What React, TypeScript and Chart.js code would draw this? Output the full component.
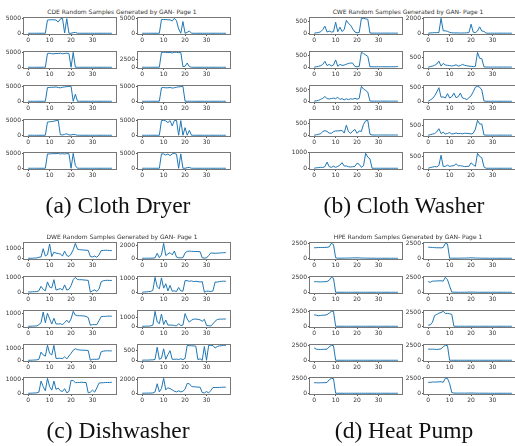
import React, { useEffect, useRef } from "react";
import { Chart, registerables } from "chart.js";

Chart.register(...registerables);

// ---------- data ----------
const X_TICKS = [0, 10, 20, 30];

// CDE (Cloth Dryer)
const CDE_1 = [0,0,0,0,0,0,0,0,0,4600, 4700,4700,4700,4600,3900,5000,5200,100,5100,0, 0,200,300,0,0,0,0,0,0,0, 0,0,0,0,0,0,0,0,0,0];
const CDE_2 = [0,0,0,0,0,0,0,0,0,4700, 4700,4700,4600,4600,4200,5100,4300,1500,0,4000, 0,300,800,0,0,0,0,0,0,0, 0,0,0,0,0,0,0,0,0,0];
const CDE_3 = [0,0,0,0,0,0,0,0,0,4800, 4900,4700,4700,4800,4800,4900,4700,4800,4900,4800, 0,5200,0,0,0,0,0,0,0,0, 0,0,0,0,0,0,0,0,0,0];
const CDE_4 = [0,0,0,0,0,0,0,0,0,4600, 4600,4600,4500,4600,4400,4600,4600,4500,4600,200, 300,1300,200,0,0,0,0,0,0,0, 0,0,0,0,0,0,0,0,0,0];
const CDE_5 = [0,0,0,0,0,0,0,0,0,4700, 4700,4800,4800,4900,4700,4600,4800,4900,5000,5100, 5100,0,2400,0,0,0,0,0,0,0, 0,0,0,0,0,0,0,0,0,0];
const CDE_6 = [0,0,0,0,0,0,0,0,0,4700, 4800,4700,4700,4800,4600,4700,4900,5000,5100,5200, 0,0,0,0,0,0,0,0,0,0, 0,0,0,0,0,0,0,0,0,0];
const CDE_7 = [0,0,0,0,0,0,0,0,0,4500, 4600,4700,4800,5000,5100,200,100,300,500,100, 100,300,200,0,0,0,0,0,0,0, 0,0,0,0,0,0,0,0,0,0];
const CDE_8 = [0,0,0,0,0,0,0,0,0,5000, 5100,4900,4300,5000,3200,5000,5100,0,5000,0, 2600,0,1700,0,0,0,0,0,0,0, 0,0,0,0,0,0,0,0,0,0];
const CDE_9 = [0,0,0,0,0,0,0,0,0,4800, 4800,4900,4900,4900,5000,4800,4900,4800,4900,4900, 0,5000,900,0,0,0,0,0,0,0, 0,0,0,0,0,0,0,0,0,0];
const CDE_10 = [0,0,0,0,0,0,0,0,0,5000, 5000,4600,5000,4400,5000,5200,4900,0,5000,0, 0,200,300,0,0,0,0,0,0,0, 0,0,0,0,0,0,0,0,0,0];
const CDE_TICKS = [[0,5000],[0,5000],[0,5000],[0,2500],[0,5000],[0,5000],[0,5000],[0,5000],[0,5000],[0,5000]];

// CWE (Cloth Washer)
const CWE_1 = [0,20,30,60,150,290,50,90,50,60, 450,60,250,70,150,530,400,330,170,50, 20,30,600,610,590,570,10,5,5,5, 5,5,5,5,5,5,5,5,5,5];
const CWE_2 = [0,50,60,80,80,100,1980,330,320,250, 120,60,40,50,40,30,30,40,60,80, 1200,150,80,300,850,300,250,20,10,10, 10,10,10,10,10,10,10,10,10,10];
const CWE_3 = [0,20,40,60,120,250,70,120,60,90, 310,40,120,80,90,130,160,180,170,30, 20,30,630,580,520,460,20,20,20,20, 20,20,20,20,20,20,20,20,25,30];
const CWE_4 = [0,40,60,100,170,320,60,200,120,100, 90,60,90,130,60,90,150,100,80,60, 50,30,50,780,470,450,20,10,10,10, 10,10,10,10,10,10,10,10,10,10];
const CWE_5 = [0,20,40,80,130,210,120,100,120,140, 110,180,80,120,60,110,70,110,90,130, 90,130,660,540,480,400,10,5,5,5, 5,5,5,5,5,5,5,5,5,5];
const CWE_6 = [0,50,100,200,340,500,150,160,120,280, 120,170,300,130,170,300,120,100,60,130, 200,350,520,550,520,420,10,0,0,0, 0,0,0,0,0,0,0,0,0,0];
const CWE_7 = [0,20,40,60,160,190,160,90,80,150, 180,180,190,200,90,420,150,80,180,240, 80,180,160,450,600,620,40,10,10,10, 10,10,10,10,10,10,10,10,10,10];
const CWE_8 = [0,30,60,80,170,320,80,150,60,90, 130,60,80,110,80,90,70,100,90,90, 60,100,300,730,550,550,20,5,5,5, 5,5,5,5,5,5,5,5,5,5];
const CWE_9 = [0,30,40,60,50,100,400,100,60,130, 60,120,200,360,140,150,100,80,100,120, 330,250,60,160,960,720,600,0,0,0, 0,0,0,0,0,0,0,0,0,0];
const CWE_10 = [0,30,50,70,60,120,550,80,80,130, 80,100,110,190,100,110,90,70,80,80, 230,150,80,630,500,450,60,0,0,0, 0,0,0,0,0,0,0,0,0,0];
const CWE_TICKS = [[0,500],[0,2000],[0,500],[0,500],[0,500],[0,500],[0,500],[0,500],[0,1000],[0,500]];

// DWE (Dishwasher)
const DWE_1 = [20,20,30,40,50,120,150,1000,250,400, 1480,200,650,550,500,450,250,750,300,200, 450,900,1550,950,900,880,860,850,830,200, 150,250,120,350,800,820,850,830,810,800];
const DWE_2 = [20,20,20,30,30,40,80,780,100,540, 2300,440,680,880,540,1120,200,100,80,120, 830,1080,1100,1080,1060,1050,1050,1020,80,50, 80,440,830,800,780,800,820,850,870,880];
const DWE_3 = [20,20,30,40,50,100,400,200,100,700, 350,300,850,150,200,250,150,500,150,200, 450,850,1010,860,850,850,830,820,800,0, 100,160,60,200,700,780,800,810,800,800];
const DWE_4 = [0,20,30,50,60,150,1090,400,250,1050, 300,620,100,500,80,100,50,350,100,80, 850,850,800,830,780,800,780,750,780,0, 80,80,50,100,750,740,780,800,810,800];
const DWE_5 = [20,20,30,40,50,150,300,1150,300,1050, 600,200,650,200,200,220,150,300,500,300, 600,1200,900,860,850,850,830,800,700,100, 150,150,150,450,780,800,800,820,820,820];
const DWE_6 = [20,20,30,40,60,150,1650,500,300,1350, 200,700,150,150,150,100,50,300,100,150, 1400,820,460,700,800,800,780,720,570,780, 100,80,50,280,570,750,800,800,810,810];
const DWE_7 = [20,20,30,40,50,100,680,450,350,1230, 580,450,1220,160,180,180,150,300,130,370, 580,840,950,880,850,840,830,830,800,20, 100,100,100,120,700,760,780,790,780,780];
const DWE_8 = [0,10,10,10,20,20,50,680,50,100, 600,50,300,500,50,50,60,40,80,30, 100,780,760,760,750,740,30,80,0,720, 0,780,780,770,640,720,750,760,780,780];
const DWE_9 = [20,20,30,40,50,100,900,500,200,1100, 500,250,900,300,400,200,150,350,50,150, 950,950,780,800,800,820,800,800,50,100, 250,100,400,750,780,780,800,800,800,820];
const DWE_10 = [0,10,20,20,30,40,200,1400,200,700, 2200,500,800,700,500,300,200,350,200,300, 600,1450,1400,1000,950,950,900,900,100,50, 250,50,400,850,850,850,860,870,900,900];
const DWE_TICKS = [[0,1000],[0,2000],[0,1000],[0,1000],[0,1000],[0,1000],[0,1000],[0,500],[0,1000],[0,2000]];

// HPE (Heat Pump)
const HPE_1 = [1800,1820,1840,1840,1850,1860,1880,1950,2550,2350, 100,30,30,40,40,50,60,60,80,80, 90,80,60,50,40,40,30,30,30,20, 20,20,20,20,20,20,20,20,20,20];
const HPE_2 = [1900,1880,1850,1820,1800,1800,1780,1850,2550,2450, 30,30,30,30,30,40,40,50,60,80, 90,80,60,50,40,30,30,30,20,20, 20,20,20,20,20,20,20,20,20,20];
const HPE_3 = [1850,1850,1830,1820,1830,1850,1880,2100,2600,2450, 20,20,20,20,20,20,20,20,20,20, 20,20,20,20,20,20,20,20,20,20, 20,20,20,20,20,20,20,20,20,20];
const HPE_4 = [1850,1750,1950,1950,1980,2000,2000,1950,2600,2200, 1100,50,40,40,30,30,30,30,40,50, 60,50,40,30,30,30,30,30,30,30, 30,30,30,30,30,30,30,30,30,30];
const HPE_5 = [1950,1900,1800,1850,1900,1900,2000,2250,2550,2550, 10,10,10,10,10,10,10,10,10,10, 10,10,10,10,10,10,10,10,10,10, 10,10,10,10,10,10,10,10,10,10];
const HPE_6 = [220,270,760,1960,2170,2390,2500,2720,2340,2340, 2280,2170,30,20,20,20,20,20,20,20, 20,20,20,20,20,20,20,20,20,20, 20,20,20,20,20,20,20,20,20,20];
const HPE_7 = [2100,1900,1850,1850,1860,1880,1900,2300,2550,2500, 10,10,10,10,10,10,10,10,10,10, 10,10,10,10,10,10,10,10,10,10, 10,10,10,10,10,10,10,10,10,10];
const HPE_8 = [1900,1900,1900,1880,1850,1880,1950,2300,2550,2500, 10,10,10,10,10,10,10,10,10,10, 10,10,10,10,10,10,10,10,10,10, 10,10,10,10,10,10,10,10,10,10];
const HPE_9 = [1800,1800,1780,1800,1800,1820,1850,2300,2550,2500, 10,10,10,10,10,10,10,10,10,10, 10,10,10,10,10,10,10,10,10,10, 10,10,10,10,10,10,10,10,10,10];
const HPE_10 = [1800,1800,1850,1850,1850,1880,1900,1800,2450,2450, 1600,150,60,50,50,50,50,50,50,60, 60,60,50,40,40,40,40,40,30,30, 30,30,30,30,30,30,30,30,30,30];
const HPE_TICKS = [[0,2500],[0,2500],[0,2500],[0,2500],[0,2500],[0,2500],[0,2500],[0,2500],[0,2500],[0,2500]];

const PANELS = [
  { title: "CDE Random Samples Generated by GAN- Page 1", caption: "(a) Cloth Dryer", ox: 0, oy: 0,
    series: [CDE_1, CDE_2, CDE_3, CDE_4, CDE_5, CDE_6, CDE_7, CDE_8, CDE_9, CDE_10], ticks: CDE_TICKS },
  { title: "CWE Random Samples Generated by GAN- Page 1", caption: "(b) Cloth Washer", ox: 286, oy: 0,
    series: [CWE_1, CWE_2, CWE_3, CWE_4, CWE_5, CWE_6, CWE_7, CWE_8, CWE_9, CWE_10], ticks: CWE_TICKS },
  { title: "DWE Random Samples Generated by GAN- Page 1", caption: "(c) Dishwasher", ox: 0, oy: 225,
    series: [DWE_1, DWE_2, DWE_3, DWE_4, DWE_5, DWE_6, DWE_7, DWE_8, DWE_9, DWE_10], ticks: DWE_TICKS },
  { title: "HPE Random Samples Generated by GAN- Page 1", caption: "(d) Heat Pump", ox: 286, oy: 225,
    series: [HPE_1, HPE_2, HPE_3, HPE_4, HPE_5, HPE_6, HPE_7, HPE_8, HPE_9, HPE_10], ticks: HPE_TICKS },
];

// ---------- layout ----------
const COL_X = [24, 138];
const ROW_Y = [17, 51, 85, 119, 152];
const BOX_W = 92;
const BOX_H = 17;
const YW = 26; // y-axis area width
const XH = 12; // x-axis area height
const PT = 4;
const PR = 4;
const CW = YW + BOX_W + PR;
const CH = PT + BOX_H + XH;
const BLUE = "#1f77b4";
const AXIS = "#555";
const TEXT = "#333";
const FONT = "DejaVu Sans";

const boxPlugin = {
  id: "boxFrame",
  afterDraw(chart: any) {
    const { ctx, chartArea: a } = chart;
    ctx.save();
    ctx.strokeStyle = "#777";
    ctx.lineWidth = 1;
    ctx.strokeRect(Math.round(a.left) - 0.5, Math.round(a.top) - 0.5, Math.round(a.right - a.left) + 1, Math.round(a.bottom - a.top) + 1);
    ctx.restore();
  },
};

function Sub({ data, ticks, left, top }: { data: number[]; ticks: number[]; left: number; top: number }) {
  const ref = useRef<HTMLCanvasElement>(null);
  useEffect(() => {
    const lo = Math.min(...data);
    const hi = Math.max(...data);
    const r = hi - lo;
    const chart = new Chart(ref.current as HTMLCanvasElement, {
      type: "line",
      data: {
        datasets: [
          {
            data: data.map((v, i) => ({ x: i, y: v })),
            borderColor: BLUE,
            borderWidth: 1,
            pointRadius: 0,
            tension: 0,
            fill: false,
          },
        ],
      },
      options: {
        animation: false,
        responsive: false,
        events: [],
        plugins: { legend: { display: false }, tooltip: { enabled: false } },
        layout: { padding: { left: 0, top: PT, right: PR, bottom: 0 } },
        scales: {
          x: {
            type: "linear",
            min: -1.95,
            max: 40.95,
            afterBuildTicks: (s: any) => {
              s.ticks = X_TICKS.map((v) => ({ value: v }));
            },
            afterFit: (s: any) => {
              s.height = XH;
            },
            grid: { display: true, drawOnChartArea: false, drawTicks: true, tickLength: 2, color: AXIS, lineWidth: 1 },
            border: { display: false },
            ticks: { font: { family: FONT, size: 6 }, color: TEXT, padding: 1, autoSkip: false, maxRotation: 0 },
          },
          y: {
            type: "linear",
            min: lo - 0.05 * r,
            max: hi + 0.05 * r,
            afterBuildTicks: (s: any) => {
              s.ticks = ticks.filter((v) => v >= s.min && v <= s.max).map((v) => ({ value: v }));
            },
            afterFit: (s: any) => {
              s.width = YW;
            },
            grid: { display: true, drawOnChartArea: false, drawTicks: true, tickLength: 2, color: AXIS, lineWidth: 1 },
            border: { display: false },
            ticks: {
              font: { family: FONT, size: 6 },
              color: TEXT,
              padding: 1,
              autoSkip: false,
              callback: (v: any) => String(v),
            },
          },
        },
      } as any,
      plugins: [boxPlugin],
    });
    return () => chart.destroy();
  }, []);
  return (
    <canvas
      ref={ref}
      width={CW}
      height={CH}
      style={{ position: "absolute", left, top, width: CW, height: CH }}
    />
  );
}

export default function App() {
  return (
    <div
      style={{
        position: "absolute",
        left: 0,
        top: 0,
        width: 515,
        height: 446,
        overflow: "hidden",
        background: "#fff",
      }}
    >
      {PANELS.map((p, pi) => (
        <React.Fragment key={pi}>
          <div
            style={{
              position: "absolute",
              left: p.ox + 122 - 100,
              top: p.oy + 8,
              width: 200,
              textAlign: "center",
              fontFamily: FONT,
              fontSize: 6,
              lineHeight: "7px",
              color: TEXT,
              whiteSpace: "nowrap",
            }}
          >
            {p.title}
          </div>
          {p.series.map((d, i) => (
            <Sub
              key={i}
              data={d}
              ticks={p.ticks[i]}
              left={p.ox + COL_X[i % 2] - YW}
              top={p.oy + ROW_Y[Math.floor(i / 2)] - PT}
            />
          ))}
          <div
            style={{
              position: "absolute",
              left: p.ox + 118 - 150,
              top: p.oy + 193.5,
              width: 300,
              textAlign: "center",
              fontFamily: "Liberation Serif",
              fontSize: 23.5,
              lineHeight: "23.5px",
              color: "#111",
              whiteSpace: "nowrap",
            }}
          >
            {p.caption}
          </div>
        </React.Fragment>
      ))}
    </div>
  );
}
